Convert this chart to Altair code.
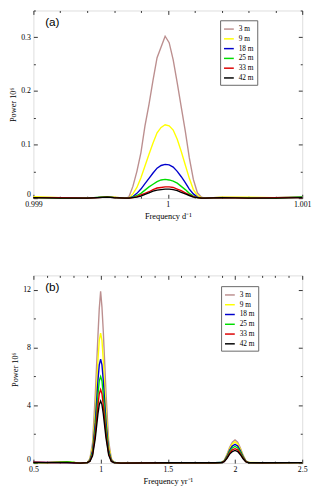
import altair as alt
import pandas as pd

SERIES = ["3 m", "9 m", "18 m", "25 m", "33 m", "42 m"]
COLORS = ["#bc8f8f", "#ffff00", "#0000cd", "#00dd00", "#dd0000", "#000000"]

# ---- panel (a): daily frequency ----
A_FREQ = [0.999, 0.9992, 0.9994, 0.99955, 0.9996, 0.99968,
          0.99971, 0.99974, 0.99977, 0.9998, 0.99983, 0.99986, 0.99989, 0.99992, 0.99995, 0.99998,
          1.00001, 1.00004, 1.00007, 1.0001, 1.00013, 1.00016, 1.00019, 1.00022, 1.00025, 1.00028,
          1.0004, 1.0006, 1.0008, 1.001]
A_3M = [0.002, 0.001, 0.0, 0.003, 0.002, 0.0,
        0.002, 0.022, 0.05, 0.085, 0.135, 0.175, 0.22, 0.262, 0.282, 0.302,
        0.29, 0.258, 0.215, 0.17, 0.125, 0.075, 0.035, 0.01, 0.002, 0.0,
        0.002, 0.001, 0.001, 0.002]
A_9M = [0.003, 0.001, 0.0, 0.002, 0.002, 0.0,
        0.0, 0.008, 0.02, 0.038, 0.06, 0.082, 0.103, 0.122, 0.132, 0.137,
        0.135, 0.127, 0.11, 0.087, 0.062, 0.037, 0.016, 0.005, 0.001, 0.0,
        0.002, 0.002, 0.001, 0.003]
A_18M = [0.001, 0.001, 0.0, 0.002, 0.001, 0.0,
         0.0, 0.003, 0.009, 0.017, 0.027, 0.037, 0.047, 0.056, 0.061, 0.063,
         0.062, 0.058, 0.05, 0.04, 0.029, 0.017, 0.008, 0.002, 0.0, 0.0,
         0.001, 0.001, 0.001, 0.002]
A_25M = [0.001, 0.0, 0.0, 0.003, 0.001, 0.0,
         0.0, 0.002, 0.005, 0.009, 0.015, 0.021, 0.026, 0.031, 0.034, 0.035,
         0.034, 0.032, 0.028, 0.022, 0.016, 0.009, 0.004, 0.001, 0.0, 0.0,
         0.001, 0.001, 0.0, 0.002]
A_33M = [0.001, 0.001, 0.0, 0.002, 0.001, 0.0,
         0.0, 0.001, 0.003, 0.006, 0.009, 0.012, 0.016, 0.019, 0.02, 0.021,
         0.021, 0.02, 0.017, 0.014, 0.01, 0.006, 0.003, 0.001, 0.0, 0.0,
         0.001, 0.0, 0.001, 0.001]
A_42M = [0.001, 0.0, 0.0, 0.002, 0.001, 0.0,
         0.0, 0.001, 0.002, 0.004, 0.007, 0.01, 0.013, 0.015, 0.016, 0.017,
         0.017, 0.016, 0.014, 0.011, 0.008, 0.005, 0.002, 0.001, 0.0, 0.0,
         0.001, 0.0, 0.0, 0.001]

# ---- panel (b): yearly frequency ----
B_FREQ = [0.5, 0.6, 0.75, 0.85, 0.9, 0.92, 0.94, 0.96, 0.98, 0.99, 1.0, 1.01, 1.02, 1.04, 1.06, 1.08,
          1.1, 1.15, 1.5, 1.85, 1.9, 1.92, 1.94, 1.96, 1.98, 2.0, 2.02, 2.04, 2.06, 2.08, 2.1, 2.2, 2.5]
B_3M = [0.05, 0.02, 0.05, 0.0, 0.02, 0.3, 1.4, 4.7, 8.8, 10.7, 11.9, 10.8, 9.1, 4.9, 1.5, 0.3,
        0.05, 0.0, 0.02, 0.02, 0.05, 0.2, 0.6, 1.1, 1.45, 1.6, 1.45, 1.05, 0.55, 0.18, 0.04, 0.02, 0.03]
B_9M = [0.03, 0.03, 0.1, 0.0, 0.03, 0.25, 1.1, 3.5, 7.1, 8.5, 9.0, 8.5, 7.1, 3.6, 1.2, 0.25,
        0.05, 0.0, 0.02, 0.02, 0.05, 0.18, 0.55, 1.0, 1.32, 1.48, 1.32, 0.95, 0.5, 0.16, 0.04, 0.02, 0.03]
B_18M = [0.05, 0.05, 0.04, 0.0, 0.03, 0.2, 0.85, 2.8, 5.7, 6.8, 7.2, 6.8, 5.7, 2.9, 0.9, 0.2,
         0.04, 0.0, 0.02, 0.02, 0.04, 0.15, 0.48, 0.9, 1.18, 1.3, 1.18, 0.85, 0.45, 0.14, 0.03, 0.02, 0.03]
B_25M = [0.03, 0.03, 0.1, 0.0, 0.03, 0.15, 0.7, 2.3, 4.7, 5.7, 6.0, 5.7, 4.7, 2.4, 0.75, 0.15,
         0.04, 0.0, 0.02, 0.02, 0.04, 0.13, 0.42, 0.8, 1.05, 1.15, 1.05, 0.76, 0.4, 0.12, 0.03, 0.02, 0.03]
B_33M = [0.06, 0.04, 0.05, 0.0, 0.03, 0.13, 0.6, 2.0, 4.0, 4.8, 5.1, 4.8, 4.0, 2.0, 0.65, 0.13,
         0.03, 0.0, 0.02, 0.02, 0.03, 0.11, 0.36, 0.7, 0.92, 1.0, 0.92, 0.66, 0.35, 0.1, 0.03, 0.02, 0.03]
B_42M = [0.04, 0.03, 0.03, 0.0, 0.03, 0.11, 0.5, 1.7, 3.4, 4.05, 4.3, 4.05, 3.4, 1.75, 0.55, 0.11,
         0.03, 0.0, 0.02, 0.02, 0.03, 0.1, 0.32, 0.62, 0.8, 0.88, 0.8, 0.58, 0.3, 0.09, 0.02, 0.02, 0.03]

# ticks
A_X_MAJOR = [0.999, 1.0, 1.001]
A_X_MINOR = [0.9992, 0.9994, 0.9996, 0.9998, 1.0002, 1.0004, 1.0006, 1.0008]
A_Y_MAJOR = [0, 0.1, 0.2, 0.3]
A_Y_MINOR = [0.05, 0.15, 0.25, 0.35]
B_X_MAJOR = [0.5, 1.0, 1.5, 2.0, 2.5]
B_X_MINOR = [0.6, 0.7, 0.8, 0.9, 1.1, 1.2, 1.3, 1.4, 1.6, 1.7, 1.8, 1.9, 2.1, 2.2, 2.3, 2.4]
B_Y_MAJOR = [0, 4, 8, 12]
B_Y_MINOR = [2, 6, 10]


def long_df(freq, cols):
    rows = []
    for k, (name, vals) in enumerate(zip(SERIES, cols)):
        for f, v in zip(freq, vals):
            rows.append({"freq": f, "power": v, "depth": name, "order": k})
    return pd.DataFrame(rows)


df_a = long_df(A_FREQ, [A_3M, A_9M, A_18M, A_25M, A_33M, A_42M])
df_b = long_df(B_FREQ, [B_3M, B_9M, B_18M, B_25M, B_33M, B_42M])

TICK = "#333333"
SERIF = "Liberation Serif"


def ax(orient, values, size, labels=False, title=None, fmt="~g", ghost=False):
    kw = dict(orient=orient, values=values, tickSize=size, offset=-size,
              domain=False, grid=False, ticks=True, tickColor=TICK,
              labels=labels, title=title, minExtent=0)
    if ghost:
        kw.update(maxExtent=0)
    if labels:
        kw.update(format=fmt, labelFont=SERIF, labelFontSize=8, labelColor="black",
                  labelPadding=3,
                  labelFlush=(orient == "left"), labelOverlap=False)
    if title:
        kw.update(titleFont=SERIF, titleFontSize=8.5, titleFontWeight="normal",
                  titleColor="black", titlePadding=3)
    return alt.Axis(**kw)


def panel(df, xdom, ydom, xmaj, xmin, ymaj, ymin, xtitle, label, lx, ly, w, h, xfmt, yfmt):
    base = alt.Chart(df)
    xs = alt.Scale(domain=xdom, nice=False, zero=False)
    ys = alt.Scale(domain=ydom, nice=False)

    lines = base.mark_line(strokeWidth=1.4, interpolate="linear").encode(
        x=alt.X("freq:Q", scale=xs, axis=ax("bottom", xmaj, 4, True, xtitle, xfmt)),
        y=alt.Y("power:Q", scale=ys, axis=ax("left", ymaj, 4, True, "Power 10⁶", yfmt)),
        color=alt.Color("depth:N",
                        scale=alt.Scale(domain=SERIES, range=COLORS),
                        legend=alt.Legend(orient="none", legendX=lx, legendY=ly,
                                          title=None, symbolType="stroke",
                                          symbolStrokeWidth=1.5, symbolSize=100,
                                          labelFont=SERIF, labelFontSize=7.5,
                                          labelColor="black", rowPadding=-3,
                                          strokeColor="#666666", fillColor="white",
                                          padding=3, labelOffset=4)),
        order=alt.Order("order:Q"),
    )

    def ghost(xo, xv, yo, yv, size):
        return base.mark_line(opacity=0, strokeWidth=0).encode(
            x=alt.X("freq:Q", scale=xs, axis=ax(xo, xv, size, ghost=True)),
            y=alt.Y("power:Q", scale=ys, axis=ax(yo, yv, size, ghost=True)),
            detail="depth:N",
        )

    top_major = ghost("top", xmaj, "right", ymaj, 4)
    bot_minor = ghost("bottom", xmin, "left", ymin, 2)
    top_minor = ghost("top", xmin, "right", ymin, 2)

    tag = alt.Chart(pd.DataFrame({"t": [label]})).mark_text(
        font="Liberation Sans", fontSize=12, align="left", baseline="middle", color="black"
    ).encode(x=alt.value(12), y=alt.value(12), text="t:N")

    return alt.layer(lines, top_major, bot_minor, top_minor, tag).resolve_axis(
        x="independent", y="independent"
    ).properties(width=w, height=h)


pa = panel(df_a, [0.999, 1.001], [0, 0.35], A_X_MAJOR, A_X_MINOR, A_Y_MAJOR, A_Y_MINOR,
           "Frequency d⁻¹", "(a)", 191, 10, 275, 192, ".3~f", ".1~f")
pb = panel(df_b, [0.5, 2.5], [0, 13], B_X_MAJOR, B_X_MINOR, B_Y_MAJOR, B_Y_MINOR,
           "Frequency yr⁻¹", "(b)", 192, 11, 275, 192, ".1~f", "d")

chart = alt.vconcat(pa, pb, spacing=55).resolve_scale(color="independent").properties(
    padding={"top": -4, "left": 0, "right": 0, "bottom": 0}
).configure_view(stroke="#333333", strokeWidth=1).configure(background="white")

chart.save("out.html", embed_options={"renderer": "svg", "actions": False})
